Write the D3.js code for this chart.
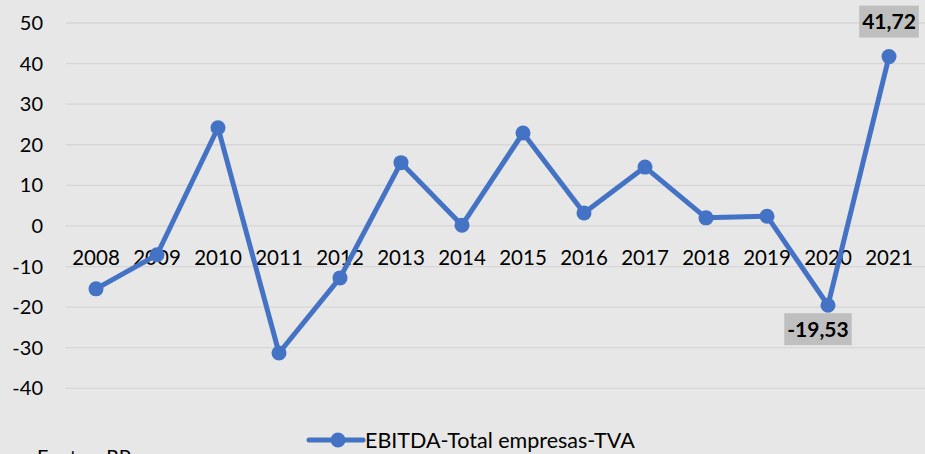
<!DOCTYPE html>
<html>
<head>
<meta charset="utf-8">
<script src="https://cdn.jsdelivr.net/npm/d3@7"></script>
<style>
  body { margin: 0; background: #e7e7e7; }
  svg { display: block; font-family: Lato, "Open Sans", sans-serif; }
</style>
</head>
<body>
<script>
var years = ["2008","2009","2010","2011","2012","2013","2014","2015","2016","2017","2018","2019","2020","2021"];
var ebitda = [-15.5, -7.1, 24.2, -31.3, -12.8, 15.6, 0.2, 22.9, 3.2, 14.5, 2.0, 2.4, -19.53, 41.72];
var yTicks = [50, 40, 30, 20, 10, 0, -10, -20, -30, -40];
var labelled = [12, 13]; // 2020 and 2021 carry data labels

var width = 925, height = 454;

var svg = d3.select("body").append("svg")
	.attr("width", width)
	.attr("height", height);

svg.append("rect").attr("width", width).attr("height", height).style("fill", "#e7e7e7");

var x = d3.scalePoint().domain(years).range([96, 889]);
var y = d3.scaleLinear().domain([-40, 50]).range([388.3, 23]);

// gridlines
svg.selectAll("line.grid")
	.data(yTicks)
	.enter()
	.append("line")
	.attr("class", "grid")
	.attr("x1", 66)
	.attr("x2", width)
	.attr("y1", function (d) { return y(d); })
	.attr("y2", function (d) { return y(d); })
	.style("stroke", "#d6d6d6")
	.style("stroke-width", 1.3);

// y tick labels
svg.selectAll("text.ytick")
	.data(yTicks)
	.enter()
	.append("text")
	.attr("class", "ytick")
	.text(function (d) { return d; })
	.attr("x", 43)
	.attr("y", function (d) { return y(d); })
	.attr("dy", "0.35em")
	.style("text-anchor", "end")
	.style("font-size", "20px")
	.style("fill", "#000");

// x labels along the zero line
svg.selectAll("text.xtick")
	.data(years)
	.enter()
	.append("text")
	.attr("class", "xtick")
	.text(function (d) { return d; })
	.attr("x", function (d) { return x(d); })
	.attr("y", y(0) + 39)
	.style("text-anchor", "middle")
	.style("font-size", "20.5px")
	.style("fill", "#000");

var line = d3.line()
	.x(function (d, i) { return x(years[i]); })
	.y(function (d) { return y(d); });

svg.append("path")
	.datum(ebitda)
	.attr("d", line)
	.style("fill", "none")
	.style("stroke", "#4472c4")
	.style("stroke-width", 5)
	.style("stroke-linejoin", "round");

svg.selectAll("circle.pt")
	.data(ebitda)
	.enter()
	.append("circle")
	.attr("class", "pt")
	.attr("cx", function (d, i) { return x(years[i]); })
	.attr("cy", function (d) { return y(d); })
	.attr("r", 7.5)
	.style("fill", "#4472c4");

// data labels with grey boxes
labelled.forEach(function (i) {
	var v = ebitda[i];
	var cx = x(years[i]) + (v > 0 ? 0 : -10);
	var cy = v > 0 ? y(v) - 35 : y(v) + 24;
	var g = svg.append("g").attr("transform", "translate(" + cx + "," + cy + ")");
	var t = g.append("text")
		.text(d3.format(".2f")(v).replace(".", ",").replace("\u2212", "-"))
		.attr("dy", "0.35em")
		.style("text-anchor", "middle")
		.style("font-size", "21px")
		.style("font-weight", "bold")
		.style("fill", "#000");
	var bb = t.node().getBBox();
	g.insert("rect", "text")
		.attr("x", bb.x - 3)
		.attr("y", -16)
		.attr("width", bb.width + 6)
		.attr("height", 32)
		.style("fill", "#bfbfbf");
});

// legend
var leg = svg.append("g").attr("transform", "translate(309,440)");
leg.append("line")
	.attr("x1", 0).attr("x2", 54)
	.style("stroke", "#4472c4")
	.style("stroke-width", 5)
	.style("stroke-linecap", "round");
leg.append("circle").attr("cx", 29).attr("r", 7.5).style("fill", "#4472c4");
leg.append("text")
	.text("EBITDA-Total empresas-TVA")
	.attr("x", 56)
	.attr("dy", "0.35em")
	.style("font-size", "21.5px")
	.style("fill", "#000");

svg.append("text")
	.text("Fontes: RP")
	.attr("x", 37)
	.attr("y", 464)
	.style("font-size", "20px")
	.style("fill", "#000");
</script>
</body>
</html>
